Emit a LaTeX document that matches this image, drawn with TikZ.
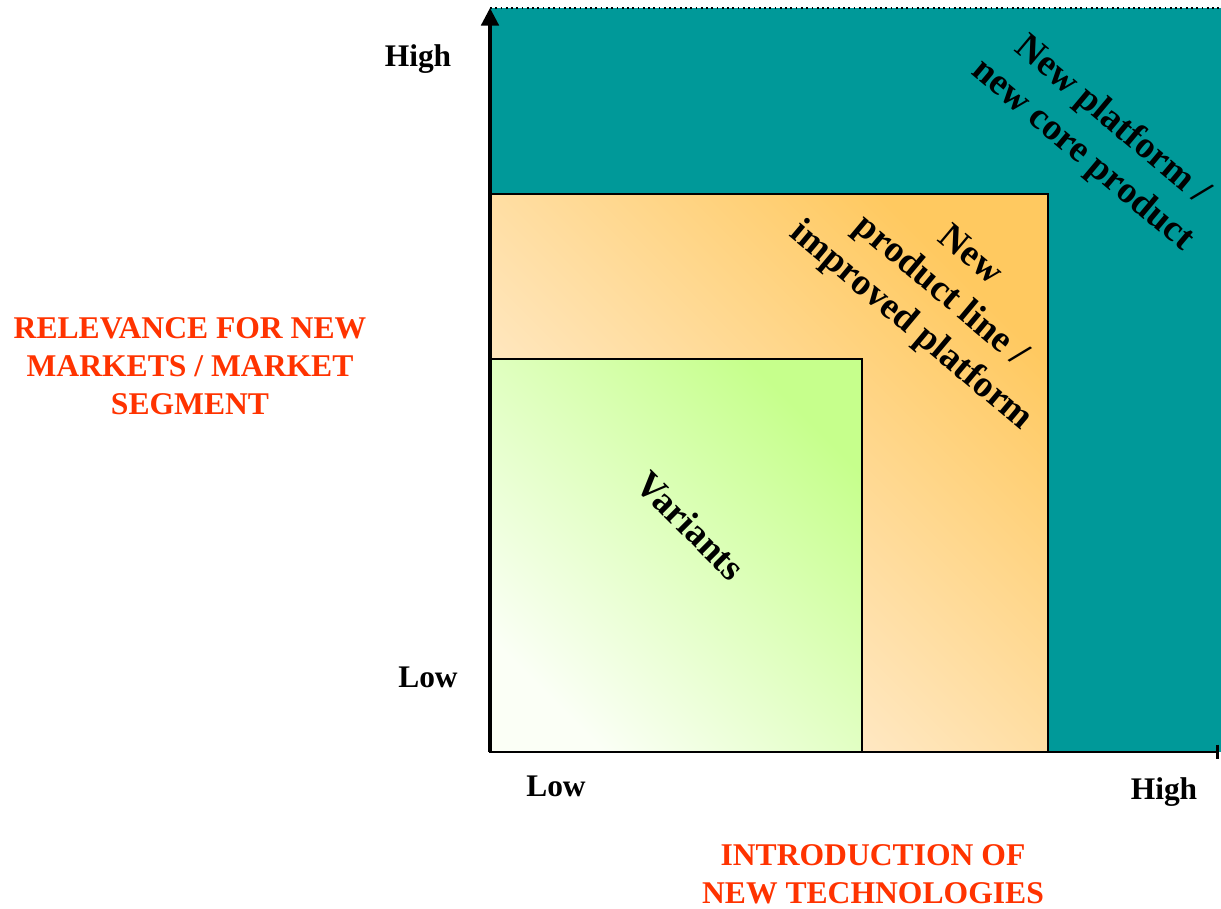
\documentclass[tikz,border=0pt]{standalone}
\usepackage{fontspec}
\setmainfont{Liberation Serif}
\usetikzlibrary{arrows.meta}

\definecolor{tealbg}{HTML}{009999}
\definecolor{axisred}{HTML}{FF3300}
\definecolor{peach}{HTML}{FFF3E6}
\definecolor{apricot}{HTML}{FFC960}
\definecolor{palegreen}{HTML}{FBFFF6}
\definecolor{limegreen}{HTML}{C6FF8C}

\begin{document}
\begin{tikzpicture}[x=0.02cm, y=-0.02cm, line join=miter,
    scalelabel/.style={font=\bfseries\fontsize{17.9}{21}\selectfont, inner sep=0pt},
    axistitle/.style={font=\bfseries\fontsize{18}{21.8}\selectfont, text=axisred, align=center, inner sep=0pt},
    fieldlabel/.style={font=\bfseries\fontsize{21.3}{26}\selectfont, align=center, inner sep=0pt},
    fieldbox/.style={draw=black, line width=1.6pt}]

\useasboundingbox (0,0) rectangle (1221,909);

\coordinate (origin) at (490,752);
\coordinate (ytop) at (490,8);
\coordinate (xend) at (1219,752);

% the three fields
\fill[tealbg] (490,8) rectangle (1221,752);
\draw[dotted, line width=1pt] (490,8) -- (1221,8);
\shadedraw[fieldbox, bottom color=peach, top color=apricot, shading angle=-45]
  (490,194) rectangle (1048,752);
\shadedraw[fieldbox, bottom color=palegreen, top color=limegreen, shading angle=-45]
  (490,359) rectangle (862,752);

% axes
\draw[line width=1.8pt, -{Triangle[width=10pt,length=10pt]}] (origin) -- (ytop);
\draw[line width=1.6pt, -{Bar[width=8.5pt]}] (origin) -- (xend);

\node[scalelabel] (yhigh) at (418,59) {High};
\node[scalelabel] (ylow) at (428,677) {Low};
\node[scalelabel] (xlow) at (556,786) {Low};
\node[scalelabel] (xhigh) at (1164,792) {High};

\node[axistitle] (ytitle) at (190,366) {RELEVANCE FOR NEW\\MARKETS / MARKET\\SEGMENT};
\node[axistitle] (xtitle) at (873,874) {INTRODUCTION OF\\NEW TECHNOLOGIES};

\node[fieldlabel, rotate=-40] (platform) at (1097,138) {New platform /\\new core product};
\node[fieldlabel, rotate=-40] (productline) at (940,292) {New\\product line /\\improved platform};
\node[fieldlabel, rotate=-45] (variants) at (691,526) {Variants};
\end{tikzpicture}
\end{document}
